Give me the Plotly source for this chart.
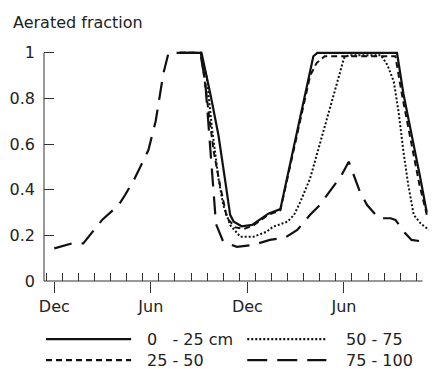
import plotly.graph_objects as go

# x in months, 0 = first December
tick_vals = [0, 6, 12, 18]
tick_text = ["Dec", "Jun", "Dec", "Jun"]
y_ticks = [0, 0.2, 0.4, 0.6, 0.8, 1.0]
y_text = ["0", "0.2", "0.4", "0.6", "0.8", "1"]

m_0_25 = [7.8, 9.15, 9.7, 10.2, 10.6, 10.93, 11.15, 11.65, 12.3, 12.9, 13.3, 14.05, 16.1, 16.35, 21.3, 21.7, 22.25, 22.75, 23.15]
v_0_25 = [1.0, 1.0, 0.82, 0.64, 0.45, 0.29, 0.26, 0.24, 0.246, 0.275, 0.295, 0.315, 0.985, 1.0, 1.0, 0.82, 0.63, 0.45, 0.30]

m_25_50 = [7.8, 9.1, 9.27, 9.58, 9.9, 10.3, 10.73, 11.25, 11.8, 12.4, 13.0, 13.3, 14.05, 15.9, 16.3, 16.8, 21.2, 21.6, 22.2, 22.7, 23.15]
v_25_50 = [1.0, 1.0, 0.92, 0.74, 0.57, 0.42, 0.276, 0.235, 0.228, 0.245, 0.275, 0.29, 0.31, 0.9, 0.955, 0.985, 0.985, 0.82, 0.6, 0.42, 0.29]

m_50_75 = [7.8, 9.1, 9.48, 9.8, 10.2, 10.5, 10.93, 11.56, 12.38, 13.2, 13.6, 14.5, 14.9, 15.3, 15.9, 16.5, 17.2, 17.7, 18.0, 18.3, 20.3, 20.7, 21.1, 21.4, 21.7, 22.0, 22.34, 22.76, 23.27]
v_50_75 = [1.0, 1.0, 0.89, 0.67, 0.45, 0.333, 0.245, 0.194, 0.194, 0.216, 0.238, 0.26, 0.29, 0.348, 0.45, 0.597, 0.77, 0.9, 0.977, 0.99, 0.99, 0.947, 0.874, 0.74, 0.567, 0.42, 0.29, 0.253, 0.224]

m_75_100 = [0.0, 1.1, 1.8, 2.6, 3.0, 4.0, 4.4, 5.0, 5.33, 5.85, 6.3, 6.78, 7.1, 9.07, 9.38, 9.9, 10.05, 10.5, 11.35, 12.36, 13.4, 14.35, 15.1, 15.9, 16.5, 17.3, 17.8, 18.3, 19.0, 19.44, 20.16, 20.9, 21.2, 21.8, 22.2, 23.2]
v_75_100 = [0.143, 0.165, 0.165, 0.232, 0.27, 0.333, 0.377, 0.45, 0.50, 0.574, 0.70, 0.91, 1.0, 1.0, 0.874, 0.364, 0.25, 0.172, 0.15, 0.158, 0.18, 0.19, 0.224, 0.29, 0.333, 0.41, 0.457, 0.523, 0.39, 0.333, 0.275, 0.275, 0.268, 0.21, 0.18, 0.17]

series = [
    ("0   - 25 cm", m_0_25, v_0_25, "solid", 2.2),
    ("25 - 50", m_25_50, v_25_50, "6px,4px", 2.0),
    ("50 - 75", m_50_75, v_50_75, "2px,2px", 2.0),
    ("75 - 100", m_75_100, v_75_100, "18px,10px", 2.2),
]

FONT = "DejaVu Sans"
W, H = 435, 369
X_MIN, X_MAX = -0.64, 23.35
Y_MIN, Y_MAX = 0.0, 1.03
PX_PER_MONTH = 16.07
PX_PER_UNIT = 228.0
L = 44
pw = (X_MAX - X_MIN) * PX_PER_MONTH
ph = (Y_MAX - Y_MIN) * PX_PER_UNIT
B = H - 281
T = H - B - ph
R = W - L - pw

fig = go.Figure()
for name, xs, ys, dash, w in series:
    fig.add_trace(go.Scatter(x=xs, y=ys, mode="lines", name=name, cliponaxis=False,
                             line=dict(color="#111111", width=w, dash=dash), showlegend=False))

def px2paper(xp, yp):
    return (xp - L) / pw, (H - B - yp) / ph

AX = "#333333"
shapes = []
# axis lines (x axis ends before the plotted data end, as in the original)
x_end, _ = px2paper(422, 281)
shapes.append(dict(type="line", xref="paper", yref="paper", x0=0, x1=x_end, y0=0, y1=0,
                   line=dict(color=AX, width=1)))
shapes.append(dict(type="line", xref="paper", yref="y", x0=0, x1=0, y0=0, y1=1.0,
                   line=dict(color=AX, width=1)))

# manual legend
legend_items = [
    ("0\u00a0\u00a0 - 25 cm", "solid", 46, 131, 339, 146),
    ("25 - 50", "6px,4px", 46, 131, 360, 146),
    ("50 - 75", "2px,2px", 247, 326, 339, 345),
    ("75 - 100", "20px,10px", 247, 326, 360, 345),
]
annotations = []
for text, dash, x0, x1, yy, tx in legend_items:
    a0, b0 = px2paper(x0, yy)
    a1, _ = px2paper(x1, yy)
    shapes.append(dict(type="line", xref="paper", yref="paper", x0=a0, x1=a1, y0=b0, y1=b0,
                       line=dict(color="#111111", width=2.2, dash=dash)))
    ta, tb = px2paper(tx, yy)
    annotations.append(dict(text=text, xref="paper", yref="paper", x=ta, y=tb, xanchor="left",
                            yanchor="middle", showarrow=False, borderpad=0,
                            font=dict(family=FONT, size=16, color="#222222")))

tx, ty = px2paper(12, 23)
annotations.append(dict(text="Aerated fraction", xref="paper", yref="paper", x=tx, y=ty,
                        xanchor="left", yanchor="middle", showarrow=False, borderpad=0,
                        font=dict(family=FONT, size=16, color="#222222")))

fig.update_layout(
    width=W, height=H, margin=dict(l=L, r=R, t=T, b=B, autoexpand=False),
    paper_bgcolor="white", plot_bgcolor="white",
    font=dict(family=FONT, size=16, color="#222222"),
    shapes=shapes, annotations=annotations, showlegend=False,
    xaxis=dict(range=[X_MIN, X_MAX], tickmode="array", tickvals=tick_vals, ticktext=tick_text,
               ticks="outside", ticklen=11, tickcolor=AX, tickwidth=1, automargin=False,
               showline=False, showgrid=False, zeroline=False,
               minor=dict(ticks="inside", tick0=0.5, dtick=1, ticklen=8, tickcolor=AX, tickwidth=1, showgrid=False)),
    yaxis=dict(range=[Y_MIN, Y_MAX], tickmode="array", tickvals=y_ticks, ticktext=y_text,
               ticks="inside", ticklen=10, tickcolor=AX, tickwidth=1, ticklabelstandoff=8, automargin=False,
               showline=False, showgrid=False, zeroline=False),
)
fig.write_html("out.html")
